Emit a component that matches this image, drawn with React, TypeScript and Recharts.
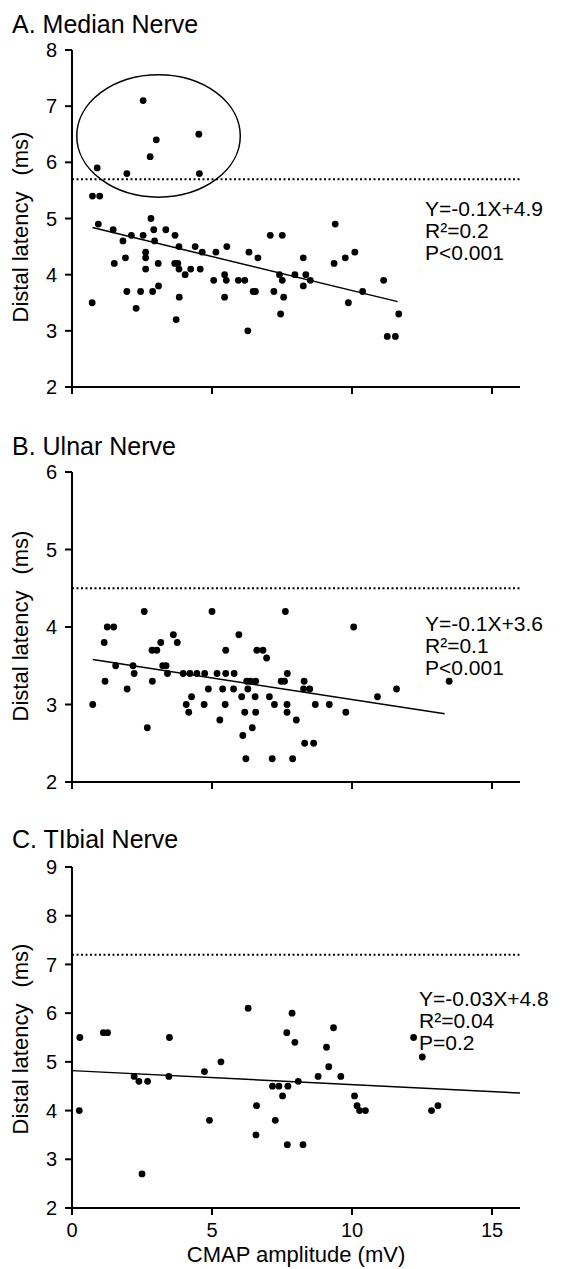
import React from 'react';
import { ScatterChart, Scatter, XAxis, YAxis, ReferenceLine, ReferenceArea } from 'recharts';

// A. Median nerve
const medianX = [2.54, 3.01, 4.53, 2.79, 0.9, 1.96, 4.55, 0.73, 0.99, 0.94, 0.72, 1.47, 1.82, 2.12, 1.91, 1.51, 1.96, 2.29, 2.45, 2.54, 2.63, 2.63, 2.63, 2.82, 2.92, 2.95, 2.88, 3.08, 3.09, 3.35, 3.68, 3.67, 3.78, 3.82, 3.82, 3.83, 3.72, 4.04, 4.24, 4.4, 4.58, 4.65, 5.06, 5.14, 5.45, 5.51, 5.45, 5.53, 5.94, 6.17, 6.32, 6.28, 6.47, 6.55, 6.64, 7.08, 7.51, 7.21, 7.41, 7.51, 7.56, 7.45, 7.96, 8.26, 8.35, 8.26, 8.51, 9.4, 9.36, 9.76, 9.87, 10.1, 10.38, 11.13, 11.26, 11.55, 11.67];
const medianY = [7.1, 6.4, 6.5, 6.1, 5.9, 5.8, 5.8, 5.4, 5.4, 4.9, 3.5, 4.8, 4.6, 4.7, 4.3, 4.2, 3.7, 3.4, 3.7, 4.7, 4.4, 4.3, 4.1, 5.0, 4.8, 4.6, 3.7, 4.2, 3.8, 4.8, 4.7, 4.2, 4.2, 4.5, 4.1, 3.6, 3.2, 4.0, 4.1, 4.5, 4.1, 4.4, 3.9, 4.4, 4.0, 3.9, 3.6, 4.5, 3.9, 3.9, 4.4, 3.0, 3.7, 3.7, 4.3, 4.7, 4.7, 3.7, 4.0, 3.9, 3.6, 3.3, 4.0, 4.3, 4.0, 3.8, 3.9, 4.9, 4.2, 4.3, 3.5, 4.4, 3.7, 3.9, 2.9, 2.9, 3.3];
const medianFitX = [0.73, 11.63];
const medianFitY = [4.84, 3.52];
const medianCutoff = 5.7;
const medianCircleX = [0.17, 6.01];
const medianCircleY = [5.38, 7.56];

// B. Ulnar nerve
const ulnarX = [0.74, 1.15, 1.18, 1.26, 1.49, 1.56, 1.97, 2.18, 2.22, 2.58, 2.69, 2.86, 3.03, 2.87, 3.17, 3.24, 3.36, 3.41, 3.62, 3.76, 3.97, 4.21, 4.08, 4.17, 4.27, 4.46, 4.74, 4.72, 4.87, 5.0, 5.18, 5.28, 5.38, 5.49, 5.49, 5.47, 5.77, 5.79, 5.96, 6.06, 6.1, 6.21, 6.17, 6.24, 6.37, 6.56, 6.28, 6.44, 6.54, 6.56, 6.6, 6.82, 6.95, 7.05, 7.15, 7.23, 7.47, 7.59, 7.62, 7.69, 7.68, 7.68, 7.88, 8.01, 8.29, 8.27, 8.49, 8.31, 8.63, 8.69, 9.19, 9.78, 10.06, 10.91, 11.59, 13.47];
const ulnarY = [3.0, 3.8, 3.3, 4.0, 4.0, 3.5, 3.2, 3.5, 3.4, 4.2, 2.7, 3.7, 3.7, 3.3, 3.8, 3.5, 3.5, 3.4, 3.9, 3.8, 3.4, 3.4, 3.0, 2.9, 3.1, 3.4, 3.4, 3.0, 3.2, 4.2, 3.4, 2.8, 3.2, 3.7, 3.4, 3.0, 3.2, 3.4, 3.9, 3.1, 2.6, 2.3, 2.9, 3.3, 3.3, 3.3, 3.2, 2.7, 3.1, 2.9, 3.7, 3.7, 3.6, 3.1, 2.3, 3.0, 3.3, 3.3, 4.2, 3.4, 3.0, 2.9, 2.3, 2.8, 3.3, 3.2, 3.2, 2.5, 2.5, 3.0, 3.0, 2.9, 4.0, 3.1, 3.2, 3.3];
const ulnarFitX = [0.74, 13.31];
const ulnarFitY = [3.58, 2.88];
const ulnarCutoff = 4.5;

// C. Tibial nerve
const tibialX = [0.28, 0.26, 1.12, 1.27, 2.22, 2.39, 2.7, 2.5, 3.48, 3.46, 4.73, 4.91, 5.32, 6.29, 6.59, 6.57, 7.16, 7.39, 7.26, 7.52, 7.67, 7.71, 7.69, 7.86, 7.96, 8.08, 8.25, 8.79, 9.09, 9.17, 9.34, 9.6, 10.09, 10.18, 10.27, 10.48, 12.2, 12.51, 12.84, 13.07];
const tibialY = [5.5, 4.0, 5.6, 5.6, 4.7, 4.6, 4.6, 2.7, 5.5, 4.7, 4.8, 3.8, 5.0, 6.1, 4.1, 3.5, 4.5, 4.5, 3.8, 4.3, 5.6, 4.5, 3.3, 6.0, 5.4, 4.6, 3.3, 4.7, 5.3, 4.9, 5.7, 4.7, 4.3, 4.1, 4.0, 4.0, 5.5, 5.1, 4.0, 4.1];
const tibialFitX = [0, 16];
const tibialFitY = [4.82, 4.36];
const tibialCutoff = 7.2;

const xTicks = [0, 5, 10, 15];
const medianTicks = [2, 3, 4, 5, 6, 7, 8];
const ulnarTicks = [2, 3, 4, 5, 6];
const tibialTicks = [2, 3, 4, 5, 6, 7, 8, 9];

const FONT = '"Liberation Sans", Arial, sans-serif';
const axisStyle = { stroke: '#000', strokeWidth: 2 };

const toPoints = (xs: number[], ys: number[]) => xs.map((x, i) => ({ x, y: ys[i] }));

const Dot = (p: any) => <circle cx={p.cx} cy={p.cy} r={3.4} fill="#000" />;

const Ellipse = (p: any) => (
  <ellipse
    cx={p.x + p.width / 2}
    cy={p.y + p.height / 2}
    rx={p.width / 2}
    ry={p.height / 2}
    fill="none"
    stroke="#000"
    strokeWidth={1.5}
  />
);

type PanelProps = {
  top: number;
  height: number;
  marginTop: number;
  marginBottom: number;
  xHeight: number;
  xs: number[];
  ys: number[];
  yTicks: number[];
  cutoff: number;
  fitX: number[];
  fitY: number[];
  showX?: boolean;
  circleX?: number[];
  circleY?: number[];
};

const Panel = (props: PanelProps) => {
  const { top, height, marginTop, marginBottom, xHeight, xs, ys, yTicks, cutoff, fitX, fitY, showX, circleX, circleY } = props;
  return (
    <div style={{ position: 'absolute', left: 0, top, width: 562, height }}>
      <ScatterChart
        width={562}
        height={height}
        margin={{ top: marginTop, right: 42, bottom: marginBottom, left: 0 }}
      >
        <XAxis
          type="number"
          dataKey="x"
          domain={[0, 16]}
          ticks={xTicks}
          height={xHeight}
          axisLine={axisStyle}
          tickLine={axisStyle}
          tickSize={7}
          tickMargin={8}
          tick={{ fill: '#000', fontSize: 20, fontFamily: FONT }}
          tickFormatter={showX ? undefined : () => ''}
          label={
            showX
              ? { value: 'CMAP amplitude (mV)', position: 'insideBottom', offset: 6, fill: '#000', fontSize: 22, fontFamily: FONT }
              : undefined
          }
        />
        <YAxis
          type="number"
          dataKey="y"
          domain={[yTicks[0], yTicks[yTicks.length - 1]]}
          ticks={yTicks}
          width={72}
          axisLine={axisStyle}
          tickLine={axisStyle}
          tickSize={7}
          tickMargin={8}
          tick={{ fill: '#000', fontSize: 20, fontFamily: FONT }}
        />
        {circleX && circleY && (
          <ReferenceArea x1={circleX[0]} x2={circleX[1]} y1={circleY[0]} y2={circleY[1]} shape={Ellipse} />
        )}
        <ReferenceLine y={cutoff} stroke="#000" strokeWidth={2} strokeDasharray="2 2.5" />
        <ReferenceLine
          segment={[
            { x: fitX[0], y: fitY[0] },
            { x: fitX[1], y: fitY[1] },
          ]}
          stroke="#000"
          strokeWidth={1.5}
        />
        <Scatter data={toPoints(xs, ys)} shape={Dot} isAnimationActive={false} />
      </ScatterChart>
    </div>
  );
};

const titleStyle = { fontSize: 25, fontFamily: FONT, fill: '#000' };
const noteStyle = { fontSize: 21, fontFamily: FONT, fill: '#000' };

const YLabel = ({ cy }: { cy: number }) => (
  <text
    x={20}
    y={cy}
    transform={`rotate(-90, 20, ${cy})`}
    textAnchor="middle"
    dominantBaseline="central"
    style={{ fontSize: 22, fontFamily: FONT, fill: '#000' }}
  >
    Distal latency<tspan dx={16}>(ms)</tspan>
  </text>
);

const Note = ({ x, y, lines }: { x: number; y: number; lines: string[] }) => (
  <>
    {lines.map((l, i) => (
      <text key={i} x={x} y={y + i * 22} dominantBaseline="central" style={noteStyle}>
        {l}
      </text>
    ))}
  </>
);

export default function App() {
  return (
    <div style={{ position: 'absolute', left: 0, top: 0, width: 562, height: 1269, background: '#fff' }}>
      <Panel
        top={0}
        height={420}
        marginTop={50}
        marginBottom={3}
        xHeight={30}
        xs={medianX}
        ys={medianY}
        yTicks={medianTicks}
        cutoff={medianCutoff}
        fitX={medianFitX}
        fitY={medianFitY}
        circleX={medianCircleX}
        circleY={medianCircleY}
      />
      <Panel
        top={420}
        height={420}
        marginTop={52}
        marginBottom={28}
        xHeight={30}
        xs={ulnarX}
        ys={ulnarY}
        yTicks={ulnarTicks}
        cutoff={ulnarCutoff}
        fitX={ulnarFitX}
        fitY={ulnarFitY}
      />
      <Panel
        top={840}
        height={429}
        marginTop={27}
        marginBottom={1}
        xHeight={60}
        xs={tibialX}
        ys={tibialY}
        yTicks={tibialTicks}
        cutoff={tibialCutoff}
        fitX={tibialFitX}
        fitY={tibialFitY}
        showX
      />
      <svg width={562} height={1269} style={{ position: 'absolute', left: 0, top: 0, pointerEvents: 'none' }}>
        <text x={12} y={33} style={titleStyle}>A. Median Nerve</text>
        <text x={12} y={455} style={titleStyle}>B. Ulnar Nerve</text>
        <text x={12} y={848} style={titleStyle}>C. TIbial Nerve</text>
        <YLabel cy={227} />
        <YLabel cy={626} />
        <YLabel cy={1039} />
        <Note x={425} y={208} lines={['Y=-0.1X+4.9', 'R²=0.2', 'P<0.001']} />
        <Note x={425} y={623} lines={['Y=-0.1X+3.6', 'R²=0.1', 'P<0.001']} />
        <Note x={419} y={998} lines={['Y=-0.03X+4.8', 'R²=0.04', 'P=0.2']} />
      </svg>
    </div>
  );
}
